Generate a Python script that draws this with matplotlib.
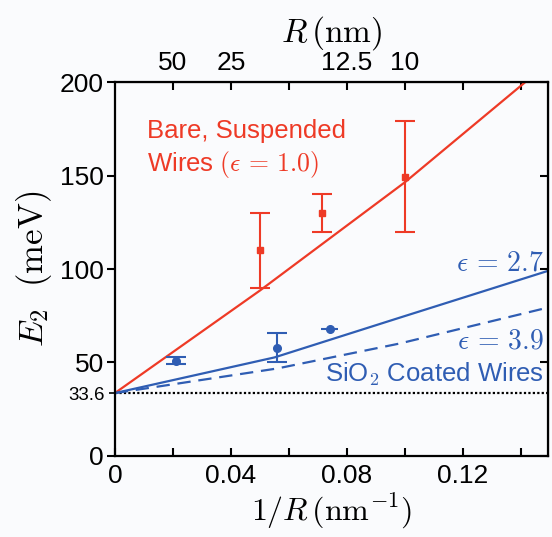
import matplotlib
matplotlib.use("Agg")
import matplotlib.pyplot as plt
import numpy as np

plt.rcParams['font.family'] = ['Liberation Sans', 'DejaVu Sans']
plt.rcParams['mathtext.fontset'] = 'cm'

RED = '#ee3a26'
BLUE = '#2f5db3'
E0 = 33.6

# measured points: 1/R (nm^-1), E2 (meV), errors
bare_x = [0.050, 0.0714, 0.100]
bare_y = [110, 130, 149]
bare_lo = [20, 10, 29]
bare_hi = [20, 10, 30]

# SiO2 coated: first two have vertical error bars, last one horizontal
sio2_x = [0.021, 0.0559]
sio2_y = [51, 58]
sio2_yerr = [2, 8]
sio2_hx = [0.074]
sio2_hy = [68]
sio2_hxerr = [0.003]

# model curves
fit_bare_x = [0, 0.05, 0.10, 0.1414]
fit_bare_y = [E0, 88.5, 146.5, 200]
fit_27_x = [0, 0.055, 0.098, 0.149]
fit_27_y = [E0, 52.7, 73.9, 98.9]
fit_39_x = [0, 0.056, 0.098, 0.149]
fit_39_y = [E0, 46.8, 60.1, 79.3]

x_ticks = [0, 0.04, 0.08, 0.12]
x_ticklabels = ['0', '0.04', '0.08', '0.12']
y_ticks = [0, 50, 100, 150, 200]
r_ticks = [50, 25, 12.5, 10]

fig = plt.figure(figsize=(5.52, 5.37), dpi=100, facecolor='#fafbfd')
ax = fig.add_axes([0.208, 0.151, 0.785, 0.696], facecolor='#fafbfd')

ax.axhline(E0, color='black', lw=1.6, linestyle=(0, (1, 1)), zorder=1)
ax.plot(fit_bare_x, fit_bare_y, color=RED, lw=1.6)
ax.plot(fit_27_x, fit_27_y, color=BLUE, lw=1.6)
ax.plot(fit_39_x, fit_39_y, color=BLUE, lw=1.6, dashes=(6, 3.5))

ax.errorbar(bare_x, bare_y, yerr=[bare_lo, bare_hi], fmt='s', color=RED,
            ms=5, elinewidth=1.5, capsize=7, capthick=1.5)
ax.errorbar(sio2_x, sio2_y, yerr=sio2_yerr, fmt='o',
            color=BLUE, ms=5.5, elinewidth=1.5, capsize=7.5, capthick=1.5)
ax.errorbar(sio2_hx, sio2_hy, xerr=sio2_hxerr, fmt='o',
            color=BLUE, ms=5.5, elinewidth=1.5, capsize=0)

ax.set_xlim(0, 0.1493)
ax.set_ylim(0, 200)

ax.set_xticks(x_ticks)
ax.set_xticklabels(x_ticklabels)
ax.set_xticks(np.arange(0.02, 0.149, 0.04), minor=True)
ax.set_yticks(y_ticks)
ax.set_yticks([E0], minor=True)
ax.set_yticklabels([str(v) for v in y_ticks])
ax.set_yticklabels(['33.6'], minor=True)
ax.tick_params(axis='x', direction='in', length=6, width=1.5, labelsize=19, pad=6, which='both')
ax.tick_params(axis='y', direction='out', length=6, width=1.5, labelsize=19, pad=2)
ax.tick_params(axis='y', which='minor', direction='out', length=4, width=1.2, labelsize=13.5, pad=3)
for s in ax.spines.values():
    s.set_linewidth(1.6)

ax.set_xlabel(r'$1/R\,(\mathrm{nm}^{-1})$', fontsize=23, labelpad=3)
ax.set_ylabel(r'$E_2\ \ (\mathrm{meV})$', fontsize=25, labelpad=4)

axr = ax.secondary_yaxis('right')
axr.set_yticks(y_ticks)
axr.tick_params(direction='in', length=6, width=1.5, labelright=False)

axt = ax.secondary_xaxis('top')
axt.set_xticks([1 / r for r in r_ticks])
axt.set_xticklabels([f'{r:g}' for r in r_ticks])
axt.set_xticks([0.06, 0.12, 0.14], minor=True)
axt.tick_params(direction='in', length=6, width=1.5, labelsize=19, pad=5, which='both')
axt.set_xlabel(r'$R\,(\mathrm{nm})$', fontsize=24, labelpad=7)

ax.text(0.011, 174, 'Bare, Suspended', color=RED, fontsize=18.5, va='center')
ax.text(0.011, 156, r'Wires $(\epsilon\, =\, 1.0)$', color=RED, fontsize=18.5, va='center')
ax.text(0.1478, 103, r'$\epsilon\, =\, 2.7$', color=BLUE, fontsize=20, ha='right', va='center')
ax.text(0.1478, 61, r'$\epsilon\, =\, 3.9$', color=BLUE, fontsize=20, ha='right', va='center')
ax.text(0.1478, 43.6, r'SiO$_\mathsf{2}$ Coated Wires', color=BLUE, fontsize=18.5,
        ha='right', va='center')

fig.savefig('out.png', dpi=100, facecolor=fig.get_facecolor())
